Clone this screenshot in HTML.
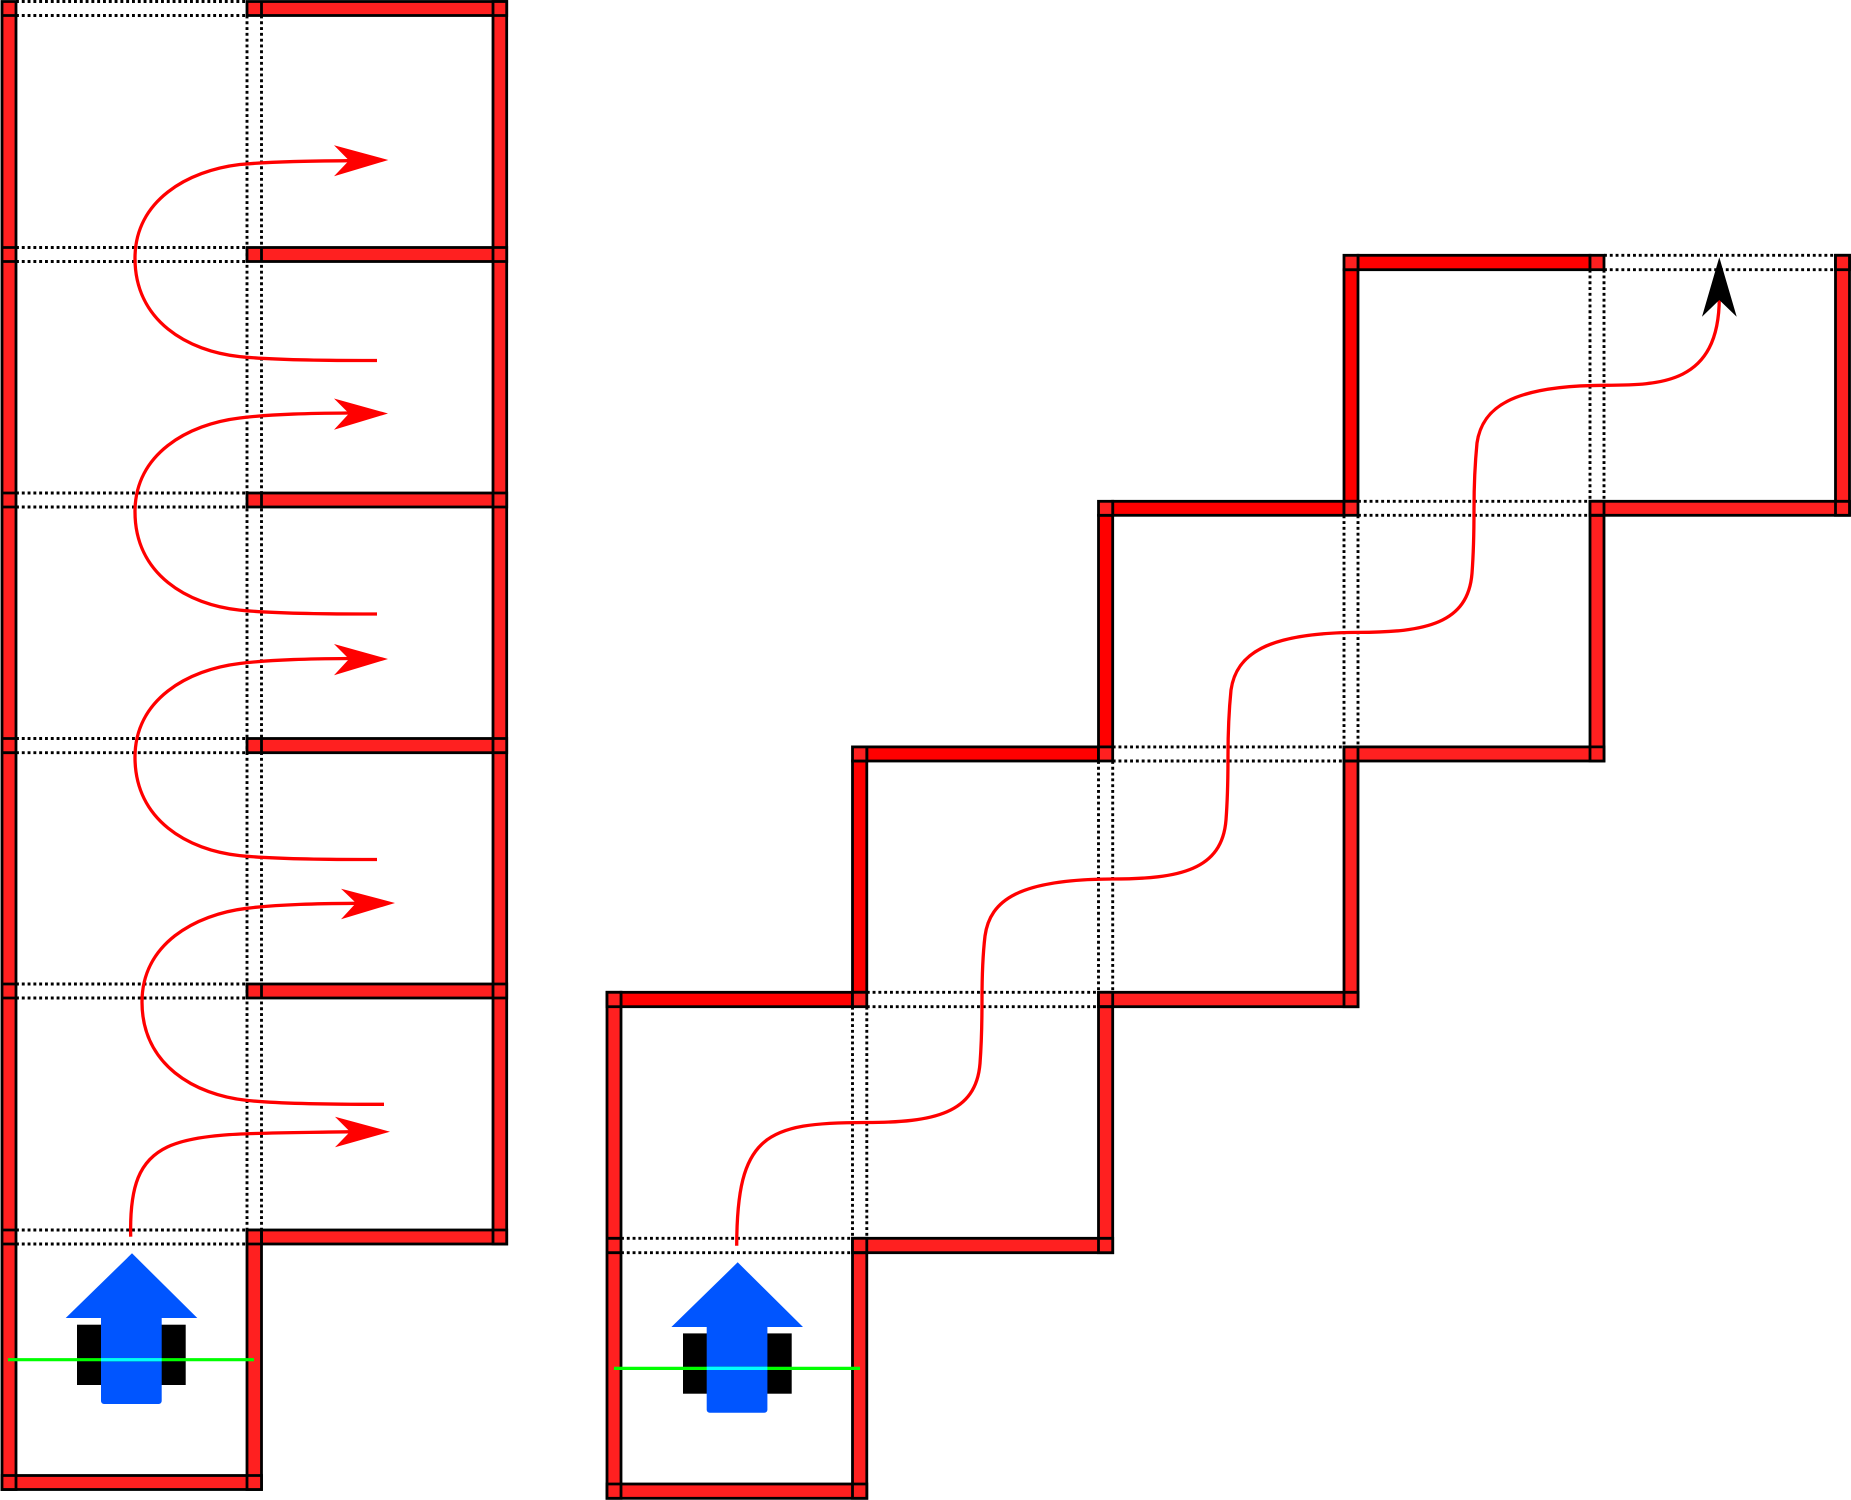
<!DOCTYPE html>
<html><head><meta charset="utf-8"><style>html,body{margin:0;padding:0;background:#fff}svg{display:block}</style></head><body>
<svg xmlns="http://www.w3.org/2000/svg" width="1851" height="1500" viewBox="0 0 1851 1500">
<!-- LEFT dotted -->
<g fill="none" stroke="#000" stroke-width="2.9" stroke-dasharray="2.9 2.9">
<path d="M16 1.5H247M16 15.5H247M16 247.5H247M16 261.5H247M16 493H247M16 507H247M16 738.5H247M16 752.7H247M16 984H247M16 998H247M16 1230H247M16 1244H247"/>
<path d="M247 15.5V1230M261.5 15.5V1230"/>
</g>
<!-- LEFT walls -->
<g fill="#ff2020" stroke="#000" stroke-width="2.8">
<rect x="247" y="1.5" width="259.7" height="14"/>
<rect x="247" y="247.5" width="259.7" height="14"/>
<rect x="247" y="493" width="259.7" height="14"/>
<rect x="247" y="738.5" width="259.7" height="14.2"/>
<rect x="247" y="984" width="259.7" height="14"/>
<rect x="247" y="1230" width="259.7" height="14"/>
<rect x="2" y="1475.5" width="259.5" height="14"/>
<rect x="247" y="1230" width="14.5" height="259.5"/>
<rect x="2" y="1.5" width="14" height="1488"/>
<rect x="493" y="1.5" width="13.7" height="1242.5"/>
</g>
<path fill="none" stroke="#000" stroke-width="2.8" d="M2 15.5H16M2 247.5H16M2 261.5H16M2 493H16M2 507H16M2 738.5H16M2 752.7H16M2 984H16M2 998H16M2 1230H16M2 1244H16M2 1475.5H16M493 15.5H506.7M493 247.5H506.7M493 261.5H506.7M493 493H506.7M493 507H506.7M493 738.5H506.7M493 752.7H506.7M493 984H506.7M493 998H506.7M493 1230H506.7M247 1244H261.5M247 1475.5H261.5M261.5 1.5V15.5M261.5 247.5V261.5M261.5 493V507M261.5 738.5V752.7M261.5 984V998M261.5 1230V1244"/>
<!-- LEFT robot -->
<rect x="77" y="1324.7" width="108.7" height="60.3" fill="#000"/>
<path d="M132 1253.3L197.3 1318H161.7V1401a3 3 0 0 1-3 3H104a3 3 0 0 1-3-3V1318H65.7Z" fill="#0055ff"/>
<path d="M8 1359.7H254" stroke="#00ff00" stroke-width="3.2"/>
<path d="M101 1359.7H161.7" stroke="#00ffff" stroke-width="3.2"/>
<!-- LEFT curves -->
<g fill="none" stroke="#ff0000" stroke-width="3.3">
<path d="M130.7 1236.7C128 1125 180 1135 352 1131.7"/>
<path d="M384 1104.3C330 1104.5 280 1103.9 246.7 1100.4C195 1095 142 1065 142 1002C142 944 195 914.5 246.7 908.3C280 904.2 320 903.6 356 903.3"/>
<path d="M377 859.5C323 859.7 273 859.1 239.7 855.6C188 850.2 135 820.2 135 757.2C135 699.2 188 669.7 239.7 663.5C273 659.4 313 658.8 349 658.5"/>
<path d="M377 614C323 614.2 273 613.6 239.7 610.1C188 604.7 135 574.7 135 511.7C135 453.7 188 424.2 239.7 418C273 413.9 313 413.3 349 413"/>
<path d="M377 360.5C323 360.7 273 360.1 239.7 356.6C188 351.2 135 321.2 135 258.2C135 200.2 188 170.7 239.7 164.5C273 161.4 313 161 349 160.7"/>
</g>
<g fill="#ff0000">
<path d="M390 1131.7L335 1116.7L350 1131.7L335 1147.3Z"/>
<path d="M395 903L341 888.7L356 903L341 919.3Z"/>
<path d="M388 659L334 644L349 659L334 675.3Z"/>
<path d="M388 413.5L334 398.5L349 413.5L334 429.8Z"/>
<path d="M388.3 160L334 145.3L349 160.5L334 176.3Z"/>
</g>
<!-- RIGHT dotted -->
<g fill="none" stroke="#000" stroke-width="2.9" stroke-dasharray="2.9 2.9">
<path d="M621 1238.3H852.5M621 1252.7H852.5M866.8 992.3H1098.5M866.8 1006.7H1098.5M1112.7 746.9H1344M1112.7 761H1344M1358 501.3H1590M1358 515.3H1590M1604 255.3H1835.5M1604 269.7H1835.5"/>
<path d="M852.5 1006.7V1238.3M866.8 1006.7V1238.3M1098.5 761V992.3M1112.7 761V992.3M1344 515.3V746.9M1358 515.3V746.9M1590 269.7V501.3M1604 269.7V501.3"/>
</g>
<!-- RIGHT walls -->
<g fill="#ff2020" stroke="#000" stroke-width="2.8">
<rect x="607" y="1484" width="259.8" height="14.3"/>
<rect x="852.5" y="1238.3" width="14.3" height="260"/>
<rect x="852.5" y="1238.3" width="260.2" height="14.4"/>
<rect x="1098.5" y="992.3" width="14.2" height="260.4"/>
<rect x="1098.5" y="992.3" width="259.5" height="14.4"/>
<rect x="1344" y="746.9" width="14" height="259.8"/>
<rect x="1344" y="746.9" width="260" height="14.1"/>
<rect x="1590" y="501.3" width="14" height="259.7"/>
<rect x="1590" y="501.3" width="259.5" height="14"/>
<rect x="1835.5" y="255.3" width="14" height="260"/>
<rect x="607" y="992.3" width="14" height="506"/>
</g>
<g fill="#ff0000" stroke="#000" stroke-width="2.8">
<rect x="621" y="992.3" width="231.5" height="14.4"/>
<rect x="852.5" y="761" width="14.3" height="231.3"/>
<rect x="866.8" y="746.9" width="231.7" height="14.1"/>
<rect x="1098.5" y="515.3" width="14.2" height="231.6"/>
<rect x="1112.7" y="501.3" width="231.3" height="14"/>
<rect x="1344" y="269.7" width="14" height="231.6"/>
<rect x="1358" y="255.3" width="232" height="14.4"/>
</g>
<g fill="#ff2020" stroke="#000" stroke-width="2.8">
<rect x="607" y="992.3" width="14" height="14.4"/>
<rect x="852.5" y="992.3" width="14.3" height="14.4"/>
<rect x="852.5" y="746.9" width="14.3" height="14.1"/>
<rect x="1098.5" y="746.9" width="14.2" height="14.1"/>
<rect x="1098.5" y="501.3" width="14.2" height="14"/>
<rect x="1344" y="501.3" width="14" height="14"/>
<rect x="1344" y="255.3" width="14" height="14.4"/>
<rect x="1590" y="255.3" width="14" height="14.4"/>
<rect x="1835.5" y="255.3" width="14" height="14.4"/>
</g>
<path fill="none" stroke="#000" stroke-width="2.8" d="M607 1238.3H621M607 1252.7H621M607 1484H621M852.5 1484H866.8M852.5 1252.7H866.8M1098.5 1238.3H1112.7M1098.5 1006.7H1112.7M1344 992.3H1358M1344 761H1358M1590 746.9H1604M1590 515.3H1604M1835.5 501.3H1849.5M866.8 1238.3V1252.7M1112.7 992.3V1006.7M1358 746.9V761M1604 501.3V515.3"/>
<!-- RIGHT robot -->
<rect x="683" y="1333.4" width="108.7" height="60.3" fill="#000"/>
<path d="M737.7 1262.3L803 1327H767.4V1409.7a3 3 0 0 1-3 3H709.7a3 3 0 0 1-3-3V1327H671.4Z" fill="#0055ff"/>
<path d="M614 1368.4H860" stroke="#00ff00" stroke-width="3.2"/>
<path d="M706.7 1368.4H767.4" stroke="#00ffff" stroke-width="3.2"/>
<!-- RIGHT curve -->
<path fill="none" stroke="#ff0000" stroke-width="3.3" d="M736.7 1245.7C737 1135 765 1122.5 866 1122.5C934 1122.5 976 1113.5 980 1063.5C981.5 1043.5 982 1023.5 982 1000C982 973 983 953 985 936C990 900 1019 879.4 1112 879C1180 879 1222 870 1226 820C1227.5 800 1228 780 1228 756C1228 730 1229 710 1231 690C1236 655 1265 632.8 1358 632.4C1426 632.4 1468 623.4 1472 573.4C1473.5 553.4 1474 533.4 1474 509.4C1474 483.4 1475 463.4 1477 443C1482 408 1511 385.7 1604 385.3C1660 385 1719 385 1719.3 298"/>
<path d="M1719.3 257.3L1736.7 316.7L1719.3 300L1702 316.7Z" fill="#000"/>
</svg>
</body></html>
